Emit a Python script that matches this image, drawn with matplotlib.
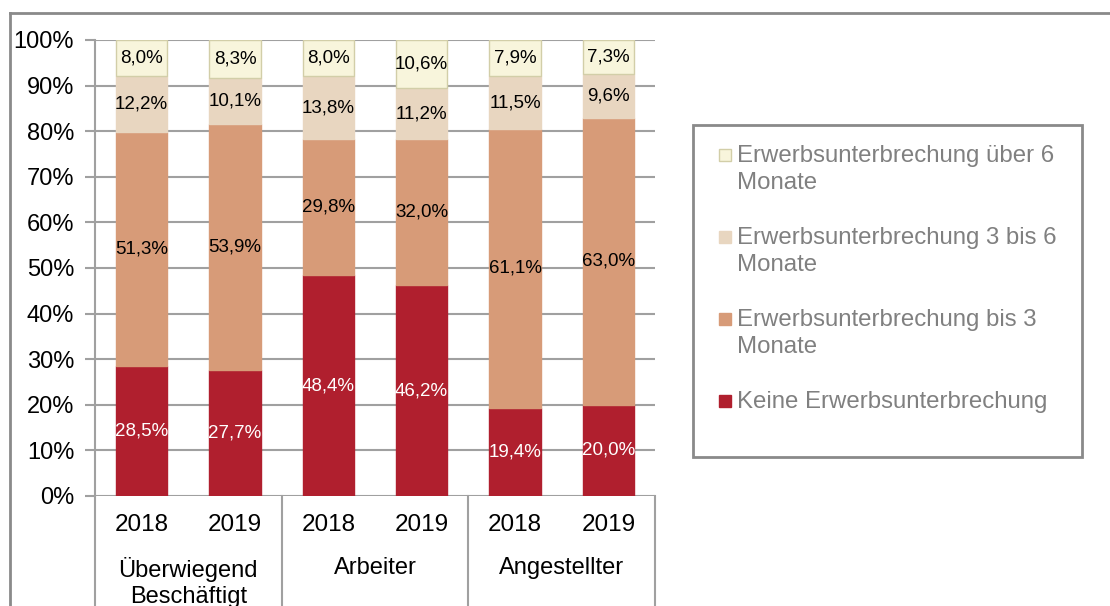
import matplotlib.pyplot as plt
import numpy as np
from matplotlib.lines import Line2D
from matplotlib.patches import Rectangle
from matplotlib.transforms import blended_transform_factory

plt.rcParams['font.family'] = ['Liberation Sans', 'DejaVu Sans']

years = ['2018', '2019', '2018', '2019', '2018', '2019']
groups = ['Überwiegend\nBeschäftigt', 'Arbeiter', 'Angestellter']

keine = [28.5, 27.7, 48.4, 46.2, 19.4, 20.0]
bis3 = [51.3, 53.9, 29.8, 32.0, 61.1, 63.0]
bis6 = [12.2, 10.1, 13.8, 11.2, 11.5, 9.6]
ueber6 = [8.0, 8.3, 8.0, 10.6, 7.9, 7.3]

series = [
    ('Keine Erwerbsunterbrechung', keine, '#B01F2E', 'white'),
    ('Erwerbsunterbrechung bis 3\nMonate', bis3, '#D79B78', 'black'),
    ('Erwerbsunterbrechung 3 bis 6\nMonate', bis6, '#E8D6C0', 'black'),
    ('Erwerbsunterbrechung über 6\nMonate', ueber6, '#F8F5DC', 'black'),
]

W, H = 1110, 606
fig = plt.figure(figsize=(W / 100, H / 100), dpi=100)
ax = fig.add_axes([95 / W, 1 - 496 / H, (655 - 95) / W, (496 - 40) / H])

x = np.arange(len(years))
bottom = np.zeros(len(years))
for name, vals, col, tcol in series:
    v = np.array(vals) / 100
    edge = '#D2CEA8' if col == '#F8F5DC' else col
    ax.bar(x, v, 0.55, bottom=bottom, color=col, edgecolor=edge,
           linewidth=1, label=name, zorder=3)
    for xi, bi, vi, raw in zip(x, bottom, v, vals):
        ax.text(xi, bi + vi / 2, f'{raw:.1f}%'.replace('.', ','),
                ha='center', va='center', fontsize=13.5, color=tcol, zorder=4)
    bottom += v

ax.set_xlim(-0.5, len(years) - 0.5)
ax.set_ylim(0, 1)
ticks = np.arange(0, 1.01, 0.1)
ax.set_yticks(ticks)
ax.set_yticklabels([f'{int(round(t * 100))}%' for t in ticks], fontsize=17)
ax.yaxis.grid(True, color='#A0A0A0', linewidth=1.5, zorder=0)
ax.set_xticks([])
ax.tick_params(axis='y', length=7, width=1.5, color='#A0A0A0', pad=8)
for s in ['top', 'right', 'bottom']:
    ax.spines[s].set_visible(False)
ax.spines['left'].set_color('#A0A0A0')
ax.spines['left'].set_linewidth(1.5)

# multi-level category labels
tr = blended_transform_factory(ax.transData, fig.transFigure)
for xi, yr in zip(x, years):
    ax.text(xi, 1 - 525 / H, yr, transform=tr, ha='center', va='center',
            fontsize=17.5)
for gi, g in enumerate(groups):
    ax.text(2 * gi + 0.5, 1 - 557 / H, g, transform=tr, ha='center', va='top',
            fontsize=17, linespacing=1.25)
for sx in [-0.5, 1.5, 3.5, 5.5]:
    fig.add_artist(Line2D([sx, sx], [1 - 496 / H, 0], transform=tr,
                          color='#A0A0A0', linewidth=1.5, clip_on=False))

# outer frame
fig.add_artist(Line2D([10 / W, 1], [1 - 13 / H, 1 - 13 / H], color='#8A8A8A',
                      linewidth=2))
fig.add_artist(Line2D([10 / W, 10 / W], [1 - 13 / H, 0], color='#8A8A8A',
                      linewidth=2))

# legend (drawn by hand so the marker sits on the first text line)
fig.add_artist(Rectangle((693 / W, 1 - 457 / H), (1082 - 693) / W,
                         (457 - 125) / H, transform=fig.transFigure,
                         facecolor='white', edgecolor='#8A8A8A', linewidth=2))
for i, (name, vals, col, tcol) in enumerate(series[::-1]):
    yc = 155 + 82 * i
    edge = '#D2CEA8' if col == '#F8F5DC' else col
    fig.add_artist(Rectangle((719 / W, 1 - (yc + 6) / H), 12 / W, 12 / H,
                             transform=fig.transFigure, facecolor=col,
                             edgecolor=edge, linewidth=1))
    fig.text(737 / W, 1 - (yc - 10) / H, name, ha='left', va='top',
             fontsize=17.3, color='#808080', linespacing=1.3)

fig.savefig('out.png', dpi=100)
